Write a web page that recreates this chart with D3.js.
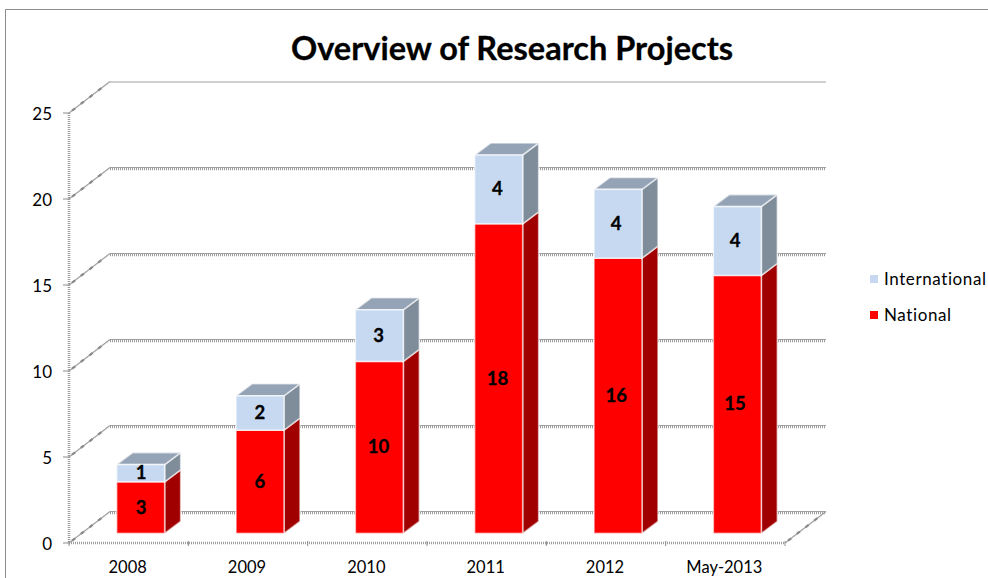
<!DOCTYPE html>
<html><head><meta charset="utf-8">
<script src="https://cdn.jsdelivr.net/npm/d3@7"></script>
<style>html,body{margin:0;padding:0;background:#fff}svg{display:block}text{font-family:Lato,"Open Sans",sans-serif}</style>
</head><body><svg id="c" width="988" height="578"></svg>
<script>
const categories=["2008","2009","2010","2011","2012","May-2013"];
const national=[3,6,10,18,16,15];
const international=[1,2,3,4,4,4];
const yTicks=[0,5,10,15,20,25];
const seriesNames=["International","National"];
const seriesColors=["#c6d9f1","#ff0000"];
const sideColors=["#7f8c9a","#a00000"];
const topColor="#95a3b6";

const svg=d3.select("#c");
const x=d3.scaleBand().domain(categories).range([69,785]);
const y=d3.scaleLinear().domain([0,25]).range([543,113]);
const labelX=d3.scalePoint().domain(categories).range([141,735]);
const wall={dx:41,dy:-31.5};
const barShift={dx:12,dy:-9.6}, depth={dx:16,dy:-12};
const barW=48;
const grey="#a0a0a0";

svg.append("path").attr("d","M5.5,578V9.5H988").attr("fill","none").attr("stroke","#8c8c8c").attr("stroke-width",1);

svg.append("text").attr("x",512).attr("y",60).attr("text-anchor","middle")
  .attr("font-size",32.5).attr("font-weight",700).attr("stroke","#000").attr("stroke-width",.3).attr("fill","#000").text("Overview of Research Projects");

function hatched(g,x1,y1,x2,y2){
  g.append("line").attr("x1",x1).attr("y1",y1+1.5).attr("x2",x2).attr("y2",y2+1.5)
   .attr("stroke","#9c9c9c").attr("stroke-width",2.4).attr("stroke-dasharray","1 1");
  g.append("line").attr("x1",x1).attr("y1",y1).attr("x2",x2).attr("y2",y2).attr("stroke",grey).attr("stroke-width",1);
}
const grid=svg.append("g");
yTicks.forEach(t=>{
  const yy=y(t);
  if(t===25){
    grid.append("line").attr("x1",x.range()[0]+wall.dx).attr("x2",x.range()[1]+wall.dx)
      .attr("y1",yy+wall.dy+.5).attr("y2",yy+wall.dy+.5).attr("stroke",grey);
  } else hatched(grid,x.range()[0]+wall.dx,yy+wall.dy,x.range()[1]+wall.dx,yy+wall.dy);
  grid.append("line").attr("x1",x.range()[0]).attr("y1",yy).attr("x2",x.range()[0]+wall.dx).attr("y2",yy+wall.dy)
    .attr("stroke",grey).attr("stroke-width",1.2);
  grid.append("line").attr("x1",x.range()[0]+3).attr("y1",yy-2.3).attr("x2",x.range()[0]+wall.dx-3).attr("y2",yy+wall.dy+2.3)
    .attr("stroke","#8a8a8a").attr("stroke-width",2.2).attr("stroke-dasharray","4 7");
});
grid.append("line").attr("x1",x.range()[1]).attr("y1",y(0)).attr("x2",x.range()[1]+wall.dx).attr("y2",y(0)+wall.dy)
  .attr("stroke",grey).attr("stroke-width",1.2);
grid.append("line").attr("x1",x.range()[1]+3).attr("y1",y(0)-2.3).attr("x2",x.range()[1]+wall.dx-3).attr("y2",y(0)+wall.dy+2.3)
  .attr("stroke","#8a8a8a").attr("stroke-width",2.2).attr("stroke-dasharray","4 7");

const ax=svg.append("g");
ax.append("line").attr("x1",x.range()[0]).attr("x2",x.range()[0]).attr("y1",y(25)).attr("y2",y(0))
  .attr("stroke","#9c9c9c").attr("stroke-width",2.6).attr("stroke-dasharray","1 1");
ax.append("line").attr("x1",x.range()[0]).attr("x2",x.range()[1]).attr("y1",y(0)).attr("y2",y(0))
  .attr("stroke","#9c9c9c").attr("stroke-width",2.6).attr("stroke-dasharray","1 1");
yTicks.forEach(t=>ax.append("line").attr("x1",63).attr("x2",69).attr("y1",y(t)).attr("y2",y(t)).attr("stroke","#8c8c8c"));
categories.concat([null]).forEach(c=>{
  const px=c===null?x.range()[1]:x(c);
  ax.append("line").attr("x1",px).attr("x2",px).attr("y1",y(0)-2).attr("y2",y(0)+3).attr("stroke","#8c8c8c");
});
yTicks.forEach(t=>svg.append("text").attr("x",52).attr("y",y(t)+6.5).attr("text-anchor","end")
  .attr("font-size",17).attr("fill","#000").text(t));
categories.forEach(c=>svg.append("text").attr("x",x(c)+x.bandwidth()/2-1).attr("y",573).attr("text-anchor","middle")
  .attr("font-size",16.5).attr("fill","#000").text(c));

const pts=a=>a.map(p=>p.join(",")).join(" ");
function seg(g,left,yBase,yTop,i,withTop){
  const r=left+barW, so=.6, sw=1.6;
  g.append("polygon").attr("points",pts([[r,yBase],[r+depth.dx,yBase+depth.dy],[r+depth.dx,yTop+depth.dy],[r,yTop]]))
    .attr("fill",sideColors[i]).attr("stroke","#fff").attr("stroke-opacity",so).attr("stroke-width",sw);
  if(withTop) g.append("polygon").attr("points",pts([[left,yTop],[r,yTop],[r+depth.dx,yTop+depth.dy],[left+depth.dx,yTop+depth.dy]]))
    .attr("fill",topColor).attr("stroke","#fff").attr("stroke-opacity",so).attr("stroke-width",sw);
  g.append("rect").attr("x",left).attr("y",yTop).attr("width",barW).attr("height",yBase-yTop)
    .attr("fill",seriesColors[i]).attr("stroke","#fff").attr("stroke-opacity",so).attr("stroke-width",sw);
}
categories.forEach((c,k)=>{
  const g=svg.append("g");
  const left=x(c)+x.bandwidth()/2+barShift.dx-barW/2;
  const b0=y(0)+barShift.dy, b1=y(national[k])+barShift.dy, b2=y(national[k]+international[k])+barShift.dy;
  seg(g,left,b0,b1,1,false);
  seg(g,left,b1,b2,0,true);
  const cx=labelX(c);
  [[national[k],b0,b1],[international[k],b1,b2]].forEach(([v,a,b])=>
    g.append("text").attr("x",cx).attr("y",(a+b)/2+6).attr("text-anchor","middle").attr("font-size",18.5)
     .attr("font-weight",700).attr("stroke","#000").attr("stroke-width",.3).text(v));
});

const legendY=[279,315];
seriesNames.forEach((n,i)=>{
  svg.append("rect").attr("x",870).attr("y",legendY[i]-4).attr("width",8).attr("height",8).attr("fill",seriesColors[i]);
  svg.append("text").attr("x",884).attr("y",legendY[i]+6).attr("font-size",17).attr("letter-spacing",.6).attr("fill","#000").text(n);
});
</script></body></html>
